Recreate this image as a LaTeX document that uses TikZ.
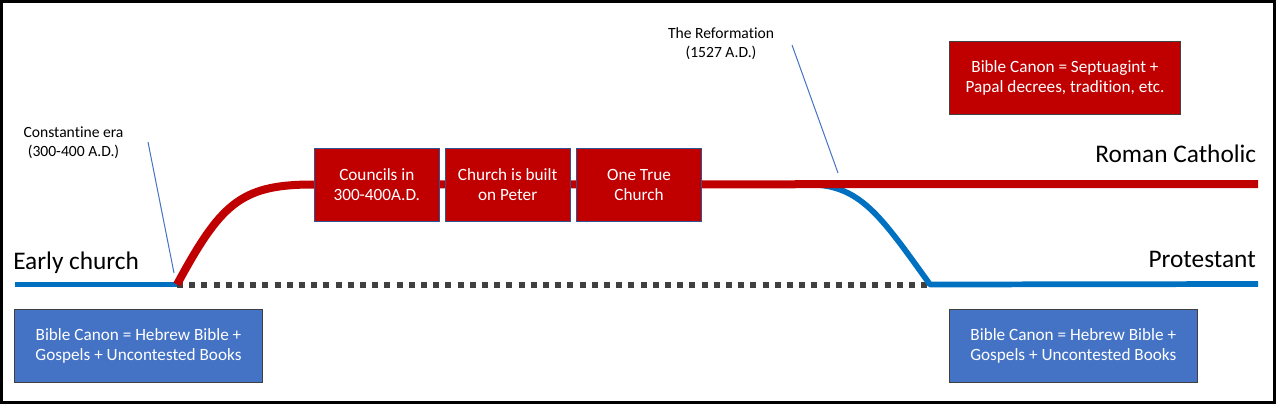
\documentclass[tikz,border=0pt]{standalone}
\usepackage{fontspec}
\setmainfont{Carlito}[Ligatures={NoCommon}]
\usepackage{tikz}
\usetikzlibrary{positioning}
\definecolor{eraRed}{HTML}{C00000}
\definecolor{eraBlue}{HTML}{0070C0}
\definecolor{boxBlue}{HTML}{4472C4}
\definecolor{boxEdge}{HTML}{2F5597}
\definecolor{dotGray}{HTML}{404040}

\begin{document}
\begin{tikzpicture}[
  x=0.75pt,
  y=-0.75pt,
  redline/.style={draw=eraRed, line width=6pt, line join=round},
  blueline/.style={draw=eraBlue, line width=4.3pt, line join=round},
  dotline/.style={draw=dotGray, line width=4.5pt, dash pattern=on 4.5pt off 4.65pt},
  callout/.style={draw=boxBlue, line width=0.75pt},
  box/.style={
    draw=dotGray,
    line width=0.75pt,
    text=white,
    align=center,
    inner sep=0pt,
    font=\fontsize{12.9}{15.2}\selectfont
  },
  redbox/.style={box, fill=eraRed, draw=boxEdge, minimum width=93.75pt, minimum height=54.75pt},
  canonbox/.style={box, fill=boxBlue, minimum width=186.3pt, minimum height=54.75pt},
  popebox/.style={box, fill=eraRed, minimum width=173.5pt, minimum height=55pt},
  era/.style={font=\fontsize{19}{23}\selectfont, inner sep=0pt},
  note/.style={font=\fontsize{11.7}{14.4}\selectfont, align=center, inner sep=0pt}
]
\useasboundingbox (0,0) rectangle (1276,404);
\draw[line width=2.25pt] (1.5,1.2) rectangle (1274,402);

% timeline points
\coordinate (earlyStart) at (15,284.5);
\coordinate (split)      at (177,284.5);
\coordinate (reform)     at (930,284.5);
\coordinate (protEnd)    at (1258,284);
\coordinate (rise)       at (310,184.5);
\coordinate (fork)       at (808,184.5);
\coordinate (rcEnd)      at (1258,184);
\coordinate (constTop)   at (148,142);
\coordinate (constTip)   at (174,273);
\coordinate (reformTop)  at (792,45);
\coordinate (reformTip)  at (838,173);

\draw[dotline] (split) -- (reform);
\draw[blueline] (earlyStart) -- (split);
\draw[blueline] (fork) .. controls (860,184.5) and (880,215) .. (reform) -- (protEnd);
\draw[redline] (split) .. controls (220,205) and (240,185) .. (rise) -- (rcEnd);

\node[redbox]   (councils) at (376.8,184.7) {Councils in\\300-400A.D.};
\node[redbox]   (peter)    at (507.7,184.7) {Church is built\\on Peter};
\node[redbox]   (oneTrue)  at (639.0,184.7) {One True\\Church};
\node[popebox]  (romeCanon) at (1065,77.7)  {Bible Canon = Septuagint +\\Papal decrees, tradition, etc.};
\node[canonbox] (earlyCanon) at (138.5,345.8) {Bible Canon = Hebrew Bible +\\Gospels + Uncontested Books};
\node[canonbox] (protCanon)  at (1073.3,345.8) {Bible Canon = Hebrew Bible +\\Gospels + Uncontested Books};

\node[era, anchor=base west] (early) at (13,269.3) {Early church};
\node[era, anchor=base east] (roman) at (1256.5,162.3) {Roman Catholic};
\node[era, anchor=base east] (prot)  at (1256,267.3) {Protestant};

\node[note] (constantine) at (73.5,143) {Constantine era\\(300-400 A.D.)};
\node[note] (reformation) at (721,44) {The Reformation\\(1527 A.D.)};

\draw[callout] (constTop) -- (constTip);
\draw[callout] (reformTop) -- (reformTip);
\end{tikzpicture}
\end{document}
